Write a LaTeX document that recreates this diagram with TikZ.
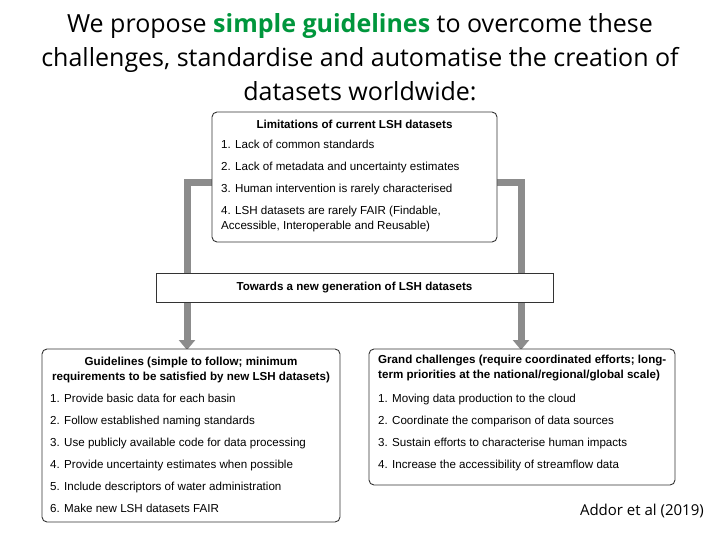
\documentclass[tikz,border=0pt]{standalone}
\usepackage{fontspec}
\setmainfont{Liberation Sans}
\newfontfamily\titlefont{Open Sans}
\usetikzlibrary{arrows.meta}
\definecolor{arrowgray}{RGB}{140,140,140}
\definecolor{titlegreen}{RGB}{0,150,60}
\begin{document}
\begin{tikzpicture}[x=1pt,y=-1pt,
  box/.style={draw=black!80,line width=0.9pt,rounded corners=5pt,fill=white},
  flat/.style={draw=black!80,line width=0.9pt,fill=white},
  txt/.style={font=\fontsize{11.6}{14.5}\selectfont,align=left,anchor=north west,inner sep=0pt},
  hd/.style={font=\fontsize{11.6}{15}\selectfont\bfseries,align=center,inner sep=0pt},
  garrow/.style={draw=arrowgray,line width=7pt,-{Triangle[length=10pt,width=16pt]}}]
\useasboundingbox (0,0) rectangle (720,540);
\node[font=\titlefont\fontsize{25}{34}\selectfont,align=center,inner sep=0pt] (title) at (360,57)
 {We propose \textcolor{titlegreen}{\bfseries simple guidelines} to overcome these\\
  challenges, standardise and automatise the creation of\\ datasets worldwide:};
% arrows
\coordinate (la) at (187,350);
\coordinate (ra) at (521,350);
\draw[garrow] (212,183) -| (la);
\draw[garrow] (497,183) -| (ra);
% top box
\draw[box] (212,112) rectangle (497,242);
\node[hd] (toph) at (354.5,124) {Limitations of current LSH datasets};
\node[txt] (topt) at (221,140) {1. Lack of common standards\\[7.5pt]
2. Lack of metadata and uncertainty estimates\\[7.5pt]
3. Human intervention is rarely characterised\\[7.5pt]
4. LSH datasets are rarely FAIR (Findable,\\ Accessible, Interoperable and Reusable)};
% middle
\draw[flat] (156,273) rectangle (553,302);
\node[hd] (mid) at (354.5,288) {Towards a new generation of LSH datasets};
% left box
\draw[box] (42,349) rectangle (340,522);
\node[hd] (lh) at (191,370) {Guidelines (simple to follow; minimum\\requirements to be satisfied by new LSH datasets)};
\node[txt] (lt) at (50,394) {1. Provide basic data for each basin\\[7.5pt]
2. Follow established naming standards\\[7.5pt]
3. Use publicly available code for data processing\\[7.5pt]
4. Provide uncertainty estimates when possible\\[7.5pt]
5. Include descriptors of water administration\\[7.5pt]
6. Make new LSH datasets FAIR};
% right box
\draw[box] (369,349) rectangle (675,485);
\node[hd,align=left,anchor=north west] (rh) at (378,355) {Grand challenges (require coordinated efforts; long-\\term priorities at the national/regional/global scale)};
\node[txt] (rt) at (378,394) {1. Moving data production to the cloud\\[7.5pt]
2. Coordinate the comparison of data sources\\[7.5pt]
3. Sustain efforts to characterise human impacts\\[7.5pt]
4. Increase the accessibility of streamflow data};
\node[font=\titlefont\fontsize{15}{18}\selectfont,anchor=east,inner sep=0pt] (cite) at (704,511) {Addor et al (2019)};
\end{tikzpicture}
\end{document}
